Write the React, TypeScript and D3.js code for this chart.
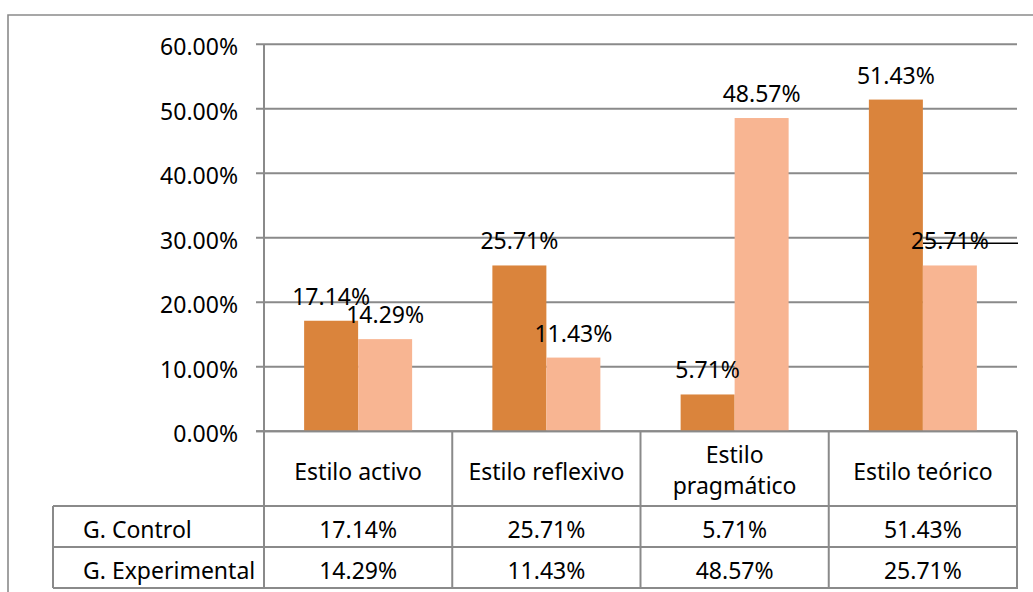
import React from "react";
import * as d3 from "d3";

const categories = ["Estilo activo", "Estilo reflexivo", "Estilo pragmático", "Estilo teórico"];
const seriesNames = ["G. Control", "G. Experimental"];
const controlValues = [0.1714, 0.2571, 0.0571, 0.5143];
const experimentalValues = [0.1429, 0.1143, 0.4857, 0.2571];
const yTicks = [0, 0.1, 0.2, 0.3, 0.4, 0.5, 0.6];

const W = 1033;
const H = 592;
const FONT = "'Noto Sans', 'Open Sans', sans-serif";
const FS = 23;
const COLORS = ["#DA843C", "#F8B592"];
const GRID = "#8a8a8a";

function wrapLabel(label: string, maxW: number): string[] {
  const canvas = document.createElement("canvas");
  const ctx = canvas.getContext("2d");
  if (!ctx) return [label];
  ctx.font = `${FS}px 'Noto Sans'`;
  if (ctx.measureText(label).width <= maxW) return [label];
  const words = label.split(" ");
  const lines: string[] = [];
  let cur = "";
  for (const w of words) {
    const t = cur ? cur + " " + w : w;
    if (ctx.measureText(t).width > maxW && cur) {
      lines.push(cur);
      cur = w;
    } else cur = t;
  }
  if (cur) lines.push(cur);
  return lines;
}

export default function App() {
  const x = d3.scaleBand<string>().domain(categories).range([264, 1017]).paddingInner(0).paddingOuter(0);
  const xs = d3.scaleBand<string>().domain(seriesNames).range([0, x.bandwidth()]).paddingInner(0).paddingOuter(0.743);
  const y = d3.scaleLinear().domain([0, 0.6]).range([431.3, 44.3]);
  const fmt = (v: number) => (v * 100).toFixed(2) + "%";
  const seriesValues = [controlValues, experimentalValues];

  const tableTop = y(0);
  const headerBottom = 506;
  const row1Bottom = 547;
  const row2Bottom = 588;
  const tableLeft = 53;
  const xLeft = x.range()[0];
  const xRight = x.range()[1];

  return (
    <svg width={W} height={H} style={{ position: "absolute", left: 0, top: 0, background: "#fff" }} fontFamily={FONT}>
      <rect x={0} y={0} width={W} height={H} fill="#fff" />
      {/* outer border */}
      <path d={`M8,${H + 5} L8,15 L${W + 5},15`} fill="none" stroke={GRID} strokeWidth={1.6} />

      {/* gridlines */}
      {yTicks.map((t) => (
        <line key={t} x1={256} x2={xRight} y1={y(t)} y2={y(t)} stroke={GRID} strokeWidth={2} />
      ))}
      {/* y axis line */}
      <line x1={xLeft} x2={xLeft} y1={y(0.6)} y2={row2Bottom} stroke={GRID} strokeWidth={2} />
      {/* y tick labels */}
      {yTicks.map((t) => (
        <text key={"l" + t} x={238} y={y(t) + 11} textAnchor="end" fontSize={FS} fill="#000">
          {fmt(t)}
        </text>
      ))}

      {/* bars */}
      {categories.map((c, ci) =>
        seriesNames.map((s, si) => {
          const v = seriesValues[si][ci];
          return (
            <rect
              key={c + s}
              x={(x(c) ?? 0) + (xs(s) ?? 0)}
              y={y(v)}
              width={xs.bandwidth()}
              height={y(0) - y(v)}
              fill={COLORS[si]}
            />
          );
        })
      )}
      {/* redraw baseline over bars */}
      <line x1={256} x2={xRight} y1={y(0)} y2={y(0)} stroke={GRID} strokeWidth={2} />

      {/* data labels */}
      {categories.map((c, ci) =>
        seriesNames.map((s, si) => {
          const v = seriesValues[si][ci];
          return (
            <text
              key={"d" + c + s}
              x={(x(c) ?? 0) + (xs(s) ?? 0) + xs.bandwidth() / 2}
              y={y(v) - 16}
              textAnchor="middle"
              fontSize={FS}
              fill="#000"
            >
              {fmt(v)}
            </text>
          );
        })
      )}
      {/* stray black line from the original picture */}
      <line x1={923} x2={1018} y1={243.3} y2={243.3} stroke="#000" strokeWidth={1.6} />

      {/* data table */}
      {categories.map((c) => (
        <line key={"v" + c} x1={(x(c) ?? 0) + x.bandwidth()} x2={(x(c) ?? 0) + x.bandwidth()} y1={tableTop} y2={row2Bottom} stroke={GRID} strokeWidth={2} />
      ))}
      <line x1={tableLeft} x2={tableLeft} y1={headerBottom} y2={row2Bottom} stroke={GRID} strokeWidth={2} />
      {[headerBottom, row1Bottom, row2Bottom].map((yy) => (
        <line key={"h" + yy} x1={tableLeft} x2={xRight + 1} y1={yy} y2={yy} stroke={GRID} strokeWidth={2} />
      ))}
      {categories.map((c) => {
        const lines = wrapLabel(c, x.bandwidth() - 24);
        const cx = (x(c) ?? 0) + x.bandwidth() / 2;
        const lh = 31;
        const base = 480 - ((lines.length - 1) * lh) / 2;
        return (
          <text key={"c" + c} x={cx} textAnchor="middle" fontSize={FS} fill="#000">
            {lines.map((ln, i) => (
              <tspan key={i} x={cx} y={base + i * lh - (lines.length > 1 ? 2 : 0)}>
                {ln}
              </tspan>
            ))}
          </text>
        );
      })}
      {seriesNames.map((s, si) => {
        const baseY = si === 0 ? 538 : 579;
        return (
          <g key={"r" + s}>
            <text x={83} y={baseY} fontSize={FS} fill="#000">
              {s}
            </text>
            {categories.map((c, ci) => (
              <text key={c} x={(x(c) ?? 0) + x.bandwidth() / 2} y={baseY} textAnchor="middle" fontSize={FS} fill="#000">
                {fmt(seriesValues[si][ci])}
              </text>
            ))}
          </g>
        );
      })}
    </svg>
  );
}
